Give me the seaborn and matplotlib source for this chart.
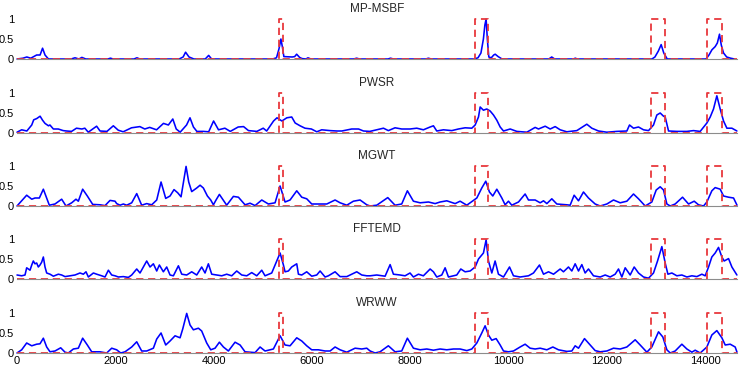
import matplotlib
matplotlib.use("Agg")
import matplotlib.pyplot as plt
import numpy as np
import pandas as pd
import seaborn as sns

# (sample index, normalised response)
mp_msbf = [(0, 0), (120, 0.02), (200, 0.05), (280, 0.02), (400, 0.1), (470, 0.1), (520, 0.27),
           (570, 0.1), (640, 0), (1100, 0), (1180, 0.03), (1260, 0), (1320, 0.04), (1400, 0),
           (1850, 0), (1900, 0.02), (1960, 0), (2380, 0), (2440, 0.03), (2500, 0), (3300, 0),
           (3380, 0.05), (3430, 0.17), (3500, 0.05), (3600, 0), (3830, 0), (3900, 0.09), (3960, 0),
           (5200, 0), (5280, 0.03), (5330, 0.25), (5370, 0.5), (5400, 0.3), (5430, 0.06),
           (5600, 0.05), (5650, 0.06), (5690, 0.12), (5750, 0.04), (5800, 0.01), (5880, 0),
           (5920, 0.03), (5980, 0), (6850, 0), (6910, 0.02), (6970, 0), (7550, 0), (7600, 0.02),
           (7660, 0), (8320, 0), (8370, 0.02), (8430, 0), (9300, 0), (9380, 0.03), (9440, 0.15),
           (9490, 0.5), (9520, 0.85), (9545, 1.0), (9570, 0.5), (9600, 0.05), (9650, 0.03),
           (9700, 0.1), (9730, 0.12), (9790, 0.06), (9870, 0), (10820, 0), (10880, 0.05),
           (10940, 0), (11320, 0), (11360, 0.02), (11400, 0), (12920, 0), (12980, 0.05),
           (13050, 0.2), (13107, 0.36), (13160, 0.15), (13230, 0), (14020, 0), (14080, 0.1),
           (14140, 0.23), (14206, 0.31), (14250, 0.4), (14294, 0.62), (14330, 0.35),
           (14376, 0.15), (14440, 0.05), (14520, 0.02), (14600, 0)]

pwsr = [(0, 0.02), (95, 0.08), (200, 0.05), (300, 0.2), (340, 0.33), (400, 0.36), (470, 0.42),
        (520, 0.32), (570, 0.24), (640, 0.18), (670, 0.2), (740, 0.1), (840, 0.1), (940, 0.06),
        (1010, 0.05), (1110, 0.04), (1210, 0.12), (1320, 0.1), (1380, 0.12), (1450, 0.02),
        (1620, 0.17), (1690, 0.05), (1830, 0.04), (1960, 0.18), (2060, 0.07), (2160, 0.03),
        (2330, 0.13), (2500, 0.16), (2600, 0.1), (2700, 0.14), (2840, 0.08), (2980, 0.24),
        (3080, 0.2), (3170, 0.35), (3240, 0.1), (3320, 0.02), (3450, 0.2), (3520, 0.38),
        (3590, 0.15), (3660, 0.04), (3790, 0.04), (3900, 0.03), (4000, 0.3), (4100, 0.08),
        (4230, 0.12), (4340, 0.04), (4500, 0.15), (4610, 0.16), (4710, 0.06), (4880, 0.04),
        (5010, 0.12), (5080, 0.05), (5220, 0.3), (5290, 0.38), (5390, 0.3), (5490, 0.38),
        (5590, 0.4), (5660, 0.25), (5760, 0.18), (5860, 0.12), (5990, 0.1), (6100, 0.03),
        (6200, 0.08), (6370, 0.06), (6510, 0.05), (6610, 0.05), (6810, 0.1), (6950, 0.1),
        (7050, 0.05), (7180, 0.04), (7456, 0.12), (7556, 0.06), (7692, 0.13), (7828, 0.1),
        (7997, 0.1), (8134, 0.12), (8269, 0.08), (8406, 0.15), (8473, 0.18), (8541, 0.05),
        (8677, 0.08), (8847, 0.06), (8982, 0.1), (9118, 0.13), (9254, 0.12), (9322, 0.2),
        (9390, 0.4), (9424, 0.65), (9491, 0.57), (9559, 0.6), (9627, 0.55), (9695, 0.45),
        (9763, 0.32), (9831, 0.15), (9899, 0.05), (10035, 0.1), (10170, 0.04), (10374, 0.02),
        (10543, 0.14), (10611, 0.1), (10747, 0.17), (10849, 0.1), (10950, 0.16), (11052, 0.08),
        (11187, 0.03), (11391, 0.06), (11594, 0.22), (11696, 0.12), (11832, 0.05), (12002, 0.02),
        (12205, 0.04), (12409, 0.05), (12463, 0.2), (12544, 0.12), (12646, 0.15), (12748, 0.08),
        (12850, 0.06), (12951, 0.2), (13019, 0.45), (13087, 0.5), (13155, 0.42), (13189, 0.4),
        (13257, 0.05), (13426, 0.04), (13630, 0.04), (13765, 0.06), (13901, 0.04), (14037, 0.25),
        (14105, 0.4), (14172, 0.6), (14240, 0.93), (14308, 0.6), (14376, 0.3), (14444, 0.12),
        (14546, 0.12), (14648, 0.05)]

mgwt = [(0, 0), (197, 0.27), (300, 0.17), (366, 0.2), (455, 0.2), (536, 0.42), (658, 0.02),
        (773, 0.05), (909, 0.17), (997, 0), (1113, 0.08), (1200, 0.17), (1248, 0.12),
        (1336, 0.42), (1431, 0.25), (1540, 0.04), (1690, 0.03), (1791, 0.01), (1893, 0.14),
        (1995, 0.12), (2028, 0.06), (2096, 0.02), (2164, 0.05), (2232, 0.02), (2334, 0.08),
        (2436, 0.31), (2537, 0.02), (2639, 0.06), (2741, 0.03), (2843, 0.15), (2931, 0.6),
        (3026, 0.19), (3114, 0.25), (3195, 0.41), (3270, 0.33), (3338, 0.23), (3440, 0.99),
        (3494, 0.6), (3555, 0.36), (3657, 0.45), (3725, 0.52), (3792, 0.45), (3874, 0.25),
        (3942, 0.15), (3996, 0.03), (4050, 0.15), (4118, 0.29), (4213, 0.12), (4267, 0.02),
        (4349, 0.15), (4403, 0.24), (4505, 0.22), (4640, 0.03), (4742, 0.07), (4844, 0.01),
        (4980, 0.15), (5115, 0.05), (5251, 0.08), (5353, 0.5), (5454, 0.1), (5556, 0.15),
        (5692, 0.38), (5794, 0.22), (5895, 0.18), (5997, 0.05), (6167, 0.05), (6303, 0.05),
        (6472, 0.15), (6574, 0.08), (6710, 0.02), (6845, 0.12), (6981, 0.15), (7117, 0.03),
        (7185, 0), (7320, 0.02), (7544, 0.21), (7692, 0.02), (7828, 0.05), (7943, 0.38),
        (8066, 0.12), (8202, 0.08), (8372, 0.1), (8508, 0.06), (8609, 0.1), (8745, 0.13),
        (8915, 0.06), (9016, 0.12), (9152, 0.02), (9356, 0.2), (9457, 0.45), (9538, 0.62),
        (9613, 0.35), (9681, 0.25), (9763, 0.42), (9865, 0.2), (9932, 0.03), (10000, 0.12),
        (10068, 0.02), (10204, 0.1), (10339, 0.3), (10407, 0.15), (10543, 0.15), (10645, 0.08),
        (10713, 0.13), (10781, 0.06), (10882, 0.18), (10984, 0.05), (11187, 0.03), (11255, 0.02),
        (11336, 0.27), (11425, 0.13), (11526, 0.35), (11628, 0.2), (11764, 0.05), (11866, 0),
        (12002, 0.05), (12137, 0.15), (12273, 0.08), (12409, 0.12), (12544, 0.3), (12646, 0.18),
        (12782, 0), (12917, 0.1), (13006, 0.4), (13087, 0.48), (13155, 0.4), (13223, 0.05),
        (13291, 0), (13392, 0.05), (13542, 0.22), (13664, 0.05), (13779, 0.12), (13867, 0.03),
        (13969, 0), (14037, 0.1), (14138, 0.38), (14206, 0.46), (14308, 0.42), (14376, 0.25),
        (14478, 0.22), (14580, 0.2), (14650, 0.02)]

fftemd = [(0, 0.1), (95, 0.08), (163, 0.1), (197, 0.28), (265, 0.22), (300, 0.35), (332, 0.45),
          (366, 0.38), (400, 0.4), (434, 0.3), (468, 0.35), (502, 0.42), (536, 0.55), (570, 0.3),
          (604, 0.15), (672, 0.12), (740, 0.07), (841, 0.12), (909, 0.1), (977, 0.06),
          (1079, 0.08), (1180, 0.1), (1282, 0.15), (1350, 0.12), (1404, 0.18), (1452, 0.05),
          (1554, 0.15), (1622, 0.12), (1724, 0.08), (1791, 0.05), (1859, 0.22), (1927, 0.1),
          (1995, 0.08), (2062, 0.05), (2164, 0.06), (2266, 0.04), (2334, 0.1), (2436, 0.25),
          (2503, 0.15), (2571, 0.3), (2639, 0.45), (2707, 0.3), (2775, 0.38), (2843, 0.2),
          (2897, 0.35), (2978, 0.18), (3046, 0.3), (3114, 0.1), (3182, 0.08), (3284, 0.33),
          (3352, 0.12), (3453, 0.1), (3555, 0.18), (3657, 0.1), (3758, 0.3), (3826, 0.15),
          (3894, 0.38), (3962, 0.12), (4064, 0.1), (4166, 0.08), (4267, 0.12), (4369, 0.08),
          (4471, 0.2), (4573, 0.1), (4674, 0.08), (4776, 0.16), (4878, 0.08), (4980, 0.22),
          (5047, 0.08), (5183, 0.15), (5285, 0.45), (5353, 0.65), (5421, 0.35), (5454, 0.18),
          (5522, 0.2), (5590, 0.3), (5692, 0.38), (5726, 0.12), (5794, 0.1), (5895, 0.18),
          (5997, 0.07), (6099, 0.1), (6167, 0.2), (6269, 0.05), (6336, 0.08), (6472, 0.18),
          (6574, 0.06), (6710, 0.06), (6812, 0.12), (6913, 0.18), (7015, 0.1), (7117, 0.08),
          (7185, 0.08), (7320, 0.1), (7490, 0.07), (7592, 0.36), (7659, 0.12), (7795, 0.1),
          (7896, 0.08), (7997, 0.15), (8066, 0.05), (8168, 0.12), (8269, 0.08), (8406, 0.25),
          (8473, 0.18), (8541, 0.05), (8643, 0.1), (8711, 0.28), (8779, 0.05), (8948, 0.1),
          (9030, 0.25), (9118, 0.18), (9220, 0.2), (9322, 0.3), (9390, 0.5), (9491, 0.65),
          (9545, 0.98), (9593, 0.45), (9661, 0.15), (9728, 0.45), (9796, 0.12), (9899, 0.05),
          (10021, 0.3), (10102, 0.08), (10237, 0.05), (10407, 0.08), (10509, 0.15), (10631, 0.35),
          (10713, 0.12), (10815, 0.18), (10917, 0.12), (11052, 0.25), (11119, 0.18), (11221, 0.3),
          (11289, 0.2), (11357, 0.38), (11425, 0.2), (11493, 0.36), (11560, 0.15), (11628, 0.25),
          (11730, 0.08), (11866, 0.05), (11968, 0.1), (12069, 0.05), (12171, 0.12), (12239, 0.25),
          (12307, 0.05), (12375, 0.28), (12476, 0.1), (12558, 0.3), (12646, 0.15), (12748, 0.05),
          (12850, 0.02), (12951, 0.15), (13033, 0.45), (13121, 0.81), (13189, 0.4), (13244, 0.12),
          (13325, 0.15), (13426, 0.08), (13528, 0.1), (13630, 0.05), (13732, 0.08), (13833, 0.06),
          (13935, 0.12), (14003, 0.08), (14071, 0.3), (14138, 0.55), (14206, 0.65), (14274, 0.79),
          (14342, 0.55), (14389, 0.45), (14478, 0.51), (14546, 0.3), (14648, 0.1)]

wrww = [(0, 0), (95, 0.08), (197, 0.25), (300, 0.18), (400, 0.22), (468, 0.23), (536, 0.37),
        (604, 0.15), (672, 0.03), (773, 0.05), (889, 0.13), (977, 0.02), (1045, 0), (1147, 0.1),
        (1248, 0.12), (1336, 0.37), (1431, 0.2), (1520, 0.03), (1690, 0.03), (1825, 0),
        (1927, 0.12), (2028, 0.08), (2110, 0), (2198, 0.03), (2334, 0.15), (2436, 0.28),
        (2537, 0.05), (2639, 0.05), (2775, 0.12), (2843, 0.35), (2931, 0.5), (3026, 0.2),
        (3114, 0.3), (3216, 0.43), (3318, 0.38), (3372, 0.6), (3453, 0.99), (3521, 0.7),
        (3589, 0.58), (3691, 0.62), (3758, 0.55), (3860, 0.25), (3942, 0.08), (4030, 0.12),
        (4118, 0.27), (4200, 0.15), (4301, 0.05), (4437, 0.27), (4539, 0.2), (4640, 0.03),
        (4742, 0.02), (4844, 0.01), (4946, 0.15), (5047, 0.05), (5217, 0.1), (5353, 0.43),
        (5454, 0.2), (5556, 0.18), (5692, 0.38), (5794, 0.3), (5895, 0.18), (5997, 0.08),
        (6133, 0.08), (6269, 0.05), (6370, 0.05), (6472, 0.15), (6574, 0.08), (6710, 0.02),
        (6879, 0.12), (7015, 0.1), (7117, 0.12), (7185, 0.05), (7286, 0), (7388, 0.03),
        (7556, 0.18), (7692, 0.03), (7828, 0.05), (7943, 0.37), (8066, 0.12), (8202, 0.08),
        (8338, 0.1), (8473, 0.07), (8609, 0.1), (8745, 0.08), (8881, 0.1), (9016, 0.1),
        (9152, 0.06), (9254, 0.1), (9356, 0.25), (9457, 0.5), (9525, 0.68), (9593, 0.45),
        (9661, 0.32), (9749, 0.36), (9831, 0.2), (9899, 0.05), (10000, 0.03), (10102, 0.05),
        (10237, 0.15), (10339, 0.22), (10441, 0.12), (10543, 0.1), (10645, 0.12), (10781, 0.08),
        (10903, 0.15), (11018, 0.08), (11187, 0.04), (11289, 0.05), (11357, 0.18), (11425, 0.12),
        (11547, 0.36), (11662, 0.2), (11764, 0.06), (11866, 0.03), (12002, 0.05), (12137, 0.12),
        (12273, 0.1), (12409, 0.15), (12578, 0.33), (12680, 0.2), (12816, 0.02), (12917, 0.15),
        (13053, 0.53), (13141, 0.4), (13223, 0.08), (13291, 0), (13392, 0.05), (13528, 0.22),
        (13630, 0.1), (13732, 0.02), (13799, 0.07), (13901, 0), (14037, 0.15), (14138, 0.45),
        (14240, 0.56), (14342, 0.38), (14410, 0.2), (14512, 0.22), (14613, 0.15), (14650, 0.02)]

# ground-truth event windows (start, end)
events = [(5330, 5410), (9320, 9585), (12900, 13190), (14040, 14350)]

methods = ["MP-MSBF", "PWSR", "MGWT", "FFTEMD", "WRWW"]
series = [mp_msbf, pwsr, mgwt, fftemd, wrww]

x_max = 14650

# step signal for the event windows
gt_x, gt_y = [0], [0]
for s, e in events:
    gt_x += [s, s, e, e]
    gt_y += [0, 1, 1, 0]
gt_x.append(x_max)
gt_y.append(0)

sns.set_theme(style="white")
plt.rcParams['font.family'] = ['Liberation Sans', 'DejaVu Sans']

W, H = 740, 367
fig = plt.figure(figsize=(W / 100, H / 100), dpi=100)
zero_px = [59, 133, 206, 279, 353]
left_px, right_px = 17, 737

for i, (name, pts) in enumerate(zip(methods, series)):
    ax = fig.add_axes([left_px / W, 1 - zero_px[i] / H, (right_px - left_px) / W, 40 / H])
    df = pd.DataFrame(pts, columns=["x", "y"])
    sns.lineplot(data=df, x="x", y="y", ax=ax, color="#0000ff", linewidth=1.15,
                 estimator=None, sort=False, clip_on=False)
    ax.plot(gt_x, gt_y, color="#e8383d", linestyle=(0, (4, 2.6)), linewidth=1.3, clip_on=False)
    ax.set_xlim(0, x_max)
    ax.set_ylim(0, 1)
    ax.set_yticks([0, 0.5, 1])
    ax.set_yticklabels(["0", "0.5", "1"])
    ax.set_xticks(np.arange(0, 14001, 2000))
    if i < 4:
        ax.set_xticklabels([])
    ax.set_xlabel("")
    ax.set_ylabel("")
    ax.set_title(name, fontsize=8.5, pad=5)
    for side in ["top", "right", "left"]:
        ax.spines[side].set_visible(False)
    ax.spines["bottom"].set_color("#8c8c8c")
    ax.spines["bottom"].set_linewidth(0.8)
    ax.tick_params(axis="both", direction="in", colors="#8c8c8c", labelcolor="black",
                   labelsize=8, width=0.8, pad=2)
    ax.tick_params(axis="x", length=5)
    ax.tick_params(axis="y", length=3)
    ax.patch.set_alpha(0)

fig.savefig("out.png", dpi=100)
